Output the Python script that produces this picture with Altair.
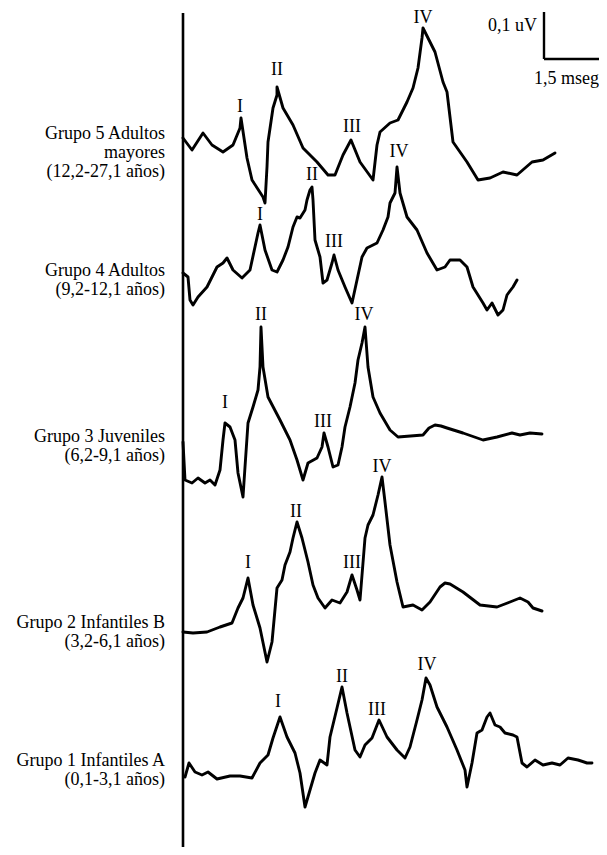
import altair as alt
import pandas as pd

# ---- waveform samples (time axis -> px, amplitude -> px, y grows downward)
g5_x = [183,192,203,212,223,233,240,241,247,252,263,265,267,268,273,277,277,283,293,303,317,328,335,343,351,360,373,377,380,390,398,407,413,418,422,423,428,435,443,447,453,467,478,490,503,517,532,543,555]
g5_y = [138,150,133,145,152,145,128,118,158,180,197,203,167,142,108,95,87,108,125,148,162,175,175,155,140,162,180,145,132,123,120,102,88,68,38,28,38,52,82,92,142,162,180,178,172,175,162,160,153]

g4_x = [183,188,190,193,198,207,217,223,227,233,242,250,258,260,265,272,277,283,288,293,297,300,305,307,310,312,313,315,320,323,327,332,334,338,345,352,357,362,367,377,383,388,390,395,397,400,407,417,427,437,445,450,460,467,473,483,487,492,498,503,507,513,517]
g4_y = [273,277,300,305,297,287,267,263,258,270,278,270,233,225,250,270,272,260,247,227,217,218,210,200,190,187,200,240,257,283,280,263,255,270,287,303,280,257,248,243,230,217,203,193,167,193,217,230,253,270,267,260,260,267,287,303,310,303,315,310,295,287,280]

g3_x = [183,185,192,198,205,210,215,220,223,225,230,235,238,243,245,248,253,258,260,261,263,268,280,290,297,303,308,317,322,324,328,333,338,342,345,350,355,358,362,365,368,373,380,390,398,423,429,435,441,447,463,483,497,512,520,530,542]
g3_y = [442,480,483,478,483,480,485,470,440,423,427,440,473,497,467,423,407,390,367,327,367,397,420,440,460,480,463,458,447,433,447,467,465,447,427,407,383,360,343,327,367,397,413,430,437,435,428,425,426,428,433,440,437,433,435,433,434]

g2_x = [183,193,207,220,232,238,243,248,253,260,267,272,277,282,285,290,293,297,302,308,313,318,325,332,340,347,352,357,360,365,368,373,378,382,385,390,397,403,413,422,430,440,445,450,463,480,497,510,520,528,533,542]
g2_y = [632,633,632,627,623,608,598,578,605,628,662,642,588,580,565,552,538,522,538,562,585,598,608,600,603,592,575,590,600,538,525,515,495,477,502,545,582,607,605,610,602,587,583,584,592,605,607,602,598,602,608,611]

g1_x = [185,189,195,202,208,217,230,240,252,260,268,273,280,287,295,300,305,310,315,320,327,330,337,342,347,355,360,365,372,379,387,397,405,410,417,422,426,430,437,447,457,465,467,472,477,482,487,490,495,500,505,513,517,522,527,535,543,552,560,568,578,587,592]
g1_y = [777,763,772,775,772,779,776,776,778,763,755,738,717,737,753,773,807,790,773,760,765,737,708,687,713,750,757,745,738,720,737,750,758,747,720,700,678,685,707,727,750,770,787,763,733,730,717,713,725,727,733,735,737,763,767,760,765,763,765,758,760,763,763]

groups = ["Grupo 5", "Grupo 4", "Grupo 3", "Grupo 2", "Grupo 1"]
series = [(g5_x, g5_y), (g4_x, g4_y), (g3_x, g3_y), (g2_x, g2_y), (g1_x, g1_y)]

# ---- wave peak labels
peak_text = ["I", "II", "III", "IV"] * 5
peak_x = [240, 277, 352, 423,
          260, 312, 334, 399,
          225, 261, 323, 364,
          248, 296, 352, 382,
          278, 342, 377, 427]
peak_y = [107, 70, 127, 18,
          215, 175, 242, 152,
          403, 315, 422, 315,
          563, 512, 563, 467,
          702, 677, 710, 665]

# ---- group labels (one multi-line text per group; y = first line)
NB = "\u00a0"
group_text = ["Grupo 5 Adultos" + NB + "\nmayores\n(12,2-27,1 años)",
              "Grupo 4 Adultos" + NB + "\n(9,2-12,1 años)",
              "Grupo 3 Juveniles\n(6,2-9,1 años)",
              "Grupo 2 Infantiles B\n(3,2-6,1 años)",
              "Grupo 1 Infantiles A\n(0,1-3,1 años)"]
group_tx = [165, 165, 165, 165, 165]
group_ty = [134, 271, 437, 623, 761]

# ---- scale bar
bar_x1 = [544, 544]
bar_x2 = [544, 600]
bar_y1 = [12, 59]
bar_y2 = [59, 59]
bar_text = ["0,1 uV", "1,5 mseg"]
bar_tx = [537, 599]
bar_ty = [26, 79]

# ---- baseline axis line
axis_x = [183]
axis_y1 = [13]
axis_y2 = [848]

rows = []
for g, (xs, ys) in zip(groups, series):
    for i, (a, b) in enumerate(zip(xs, ys)):
        rows.append({"grp": g, "x": a, "y": b, "o": i})
waves = pd.DataFrame(rows)

X = alt.Scale(domain=[8, 599], nice=False, zero=False)
Y = alt.Scale(domain=[8, 847], reverse=True, nice=False, zero=False)
FONT = "Liberation Serif"
FS = 18

def ex():
    return alt.X("x:Q", scale=X, axis=None)

def ey():
    return alt.Y("y:Q", scale=Y, axis=None)

lines = alt.Chart(waves).mark_line(color="black", strokeWidth=2.9, strokeJoin="round", strokeCap="round").encode(
    x=ex(), y=ey(), detail="grp:N", order="o:Q",
)

peaks = alt.Chart(pd.DataFrame({"t": peak_text, "x": peak_x, "y": peak_y})).mark_text(
    font=FONT, fontSize=FS, color="black", baseline="middle", align="center"
).encode(x=ex(), y=ey(), text="t:N")

glabels = alt.Chart(pd.DataFrame({"t": group_text, "x": group_tx, "y": group_ty})).mark_text(
    font=FONT, fontSize=18, color="black", baseline="middle", align="right", lineBreak="\n", lineHeight=19
).encode(x=ex(), y=ey(), text="t:N")

bars = alt.Chart(pd.DataFrame({"x": bar_x1, "x2": bar_x2, "y": bar_y1, "y2": bar_y2})).mark_rule(
    color="black", strokeWidth=2.4
).encode(x=ex(), x2="x2:Q", y=ey(), y2="y2:Q")

bartext = alt.Chart(pd.DataFrame({"t": bar_text, "x": bar_tx, "y": bar_ty})).mark_text(
    font=FONT, fontSize=FS, color="black", baseline="middle", align="right"
).encode(x=ex(), y=ey(), text="t:N")

axisline = alt.Chart(pd.DataFrame({"x": axis_x, "y": axis_y1, "y2": axis_y2})).mark_rule(
    color="black", strokeWidth=2.6
).encode(x=ex(), y=ey(), y2="y2:Q")

chart = alt.layer(axisline, lines, peaks, glabels, bars, bartext).properties(
    width=591, height=839, padding=0,
    autosize=alt.AutoSizeParams(type="none"),
    background="white",
).configure_view(stroke=None)

chart.save("out.html", embed_options={"renderer": "svg", "actions": False})
